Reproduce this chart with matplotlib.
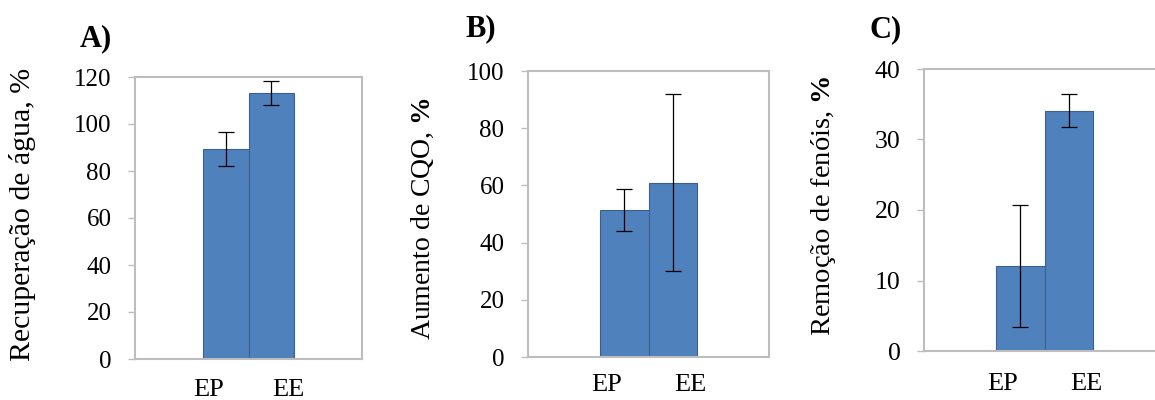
import matplotlib
matplotlib.use("Agg")
import matplotlib.pyplot as plt
import numpy as np

plt.rcParams["font.family"] = ["Liberation Serif", "DejaVu Serif"]
plt.rcParams["mathtext.fontset"] = "custom"
plt.rcParams["mathtext.rm"] = "Liberation Serif"
plt.rcParams["mathtext.bf"] = "Liberation Serif:bold"

# Extraction methods (x categories)
METHODS = ["EP", "EE"]

# (A) water recovery, %
agua_mean = [89.4, 113.1]
agua_err = [7.2, 5.1]
# (B) COD increase, %
cqo_mean = [51.4, 60.9]
cqo_err = [7.3, 31.0]
# (C) phenol removal, %
fenois_mean = [12.1, 34.1]
fenois_err = [8.65, 2.3]

AGUA_TICKS = [0, 20, 40, 60, 80, 100, 120]
CQO_TICKS = [0, 20, 40, 60, 80, 100]
FENOIS_TICKS = [0, 10, 20, 30, 40]

BAR_COLOUR = "#4F81BD"
EDGE_COLOUR = "#3B5F8E"
SPINE_COLOUR = "#BDBDBD"

W, H = 1155, 400
fig = plt.figure(figsize=(W / 100, H / 100), dpi=100)


def px_axes(left, top, right, bottom):
    return fig.add_axes([left / W, 1 - bottom / H, (right - left) / W, (bottom - top) / H])


def panel(ax, means, errs, ticks, xpad, tsize):
    x = np.arange(len(means))
    ax.bar(x, means, width=1.0, color=BAR_COLOUR, edgecolor=EDGE_COLOUR,
           linewidth=0.8, zorder=2)
    ax.errorbar(x, means, yerr=errs, fmt="none", ecolor="black",
                elinewidth=0.9, capsize=5.5, capthick=0.9, zorder=3)
    # bars fill the middle 40 % of the frame
    ax.set_xlim(-2.0, 3.0)
    ax.set_ylim(ticks[0], ticks[-1])
    ax.set_yticks(ticks)
    ax.set_xticks(x + np.array([-0.375, 0.375]))
    ax.set_xticklabels(METHODS)
    ax.tick_params(axis="x", length=0, pad=xpad, labelsize=19)
    ax.tick_params(axis="y", length=5, width=1.0, color=SPINE_COLOUR,
                   pad=12, labelsize=tsize, direction="out")
    for s in ax.spines.values():
        s.set_color(SPINE_COLOUR)
        s.set_linewidth(1.5)


axA = px_axes(135, 77, 362, 359)
panel(axA, agua_mean, agua_err, AGUA_TICKS, 14.5, 18)
axB = px_axes(528, 71, 769, 357)
panel(axB, cqo_mean, cqo_err, CQO_TICKS, 12, 18)
axC = px_axes(924, 69, 1165, 351)
panel(axC, fenois_mean, fenois_err, FENOIS_TICKS, 16, 18.5)

# rotated axis titles
fig.text(23 / W, 1 - 214 / H, "Recuperação de água, %", rotation=90,
         ha="center", va="center", fontsize=21.5)
fig.text(423 / W, 1 - 219 / H, r"Aumento de CQO, $\mathbf{\%}$", rotation=90,
         ha="center", va="center", fontsize=20)
fig.text(823 / W, 1 - 206 / H, r"Remoção de fenóis, $\mathbf{\%}$", rotation=90,
         ha="center", va="center", fontsize=20.5)

# panel letters
fig.text(96 / W, 1 - 39 / H, "A)", ha="center", va="center",
         fontsize=22, fontweight="bold")
fig.text(481 / W, 1 - 29 / H, "B)", ha="center", va="center",
         fontsize=22, fontweight="bold")
fig.text(886 / W, 1 - 30 / H, "C)", ha="center", va="center",
         fontsize=22, fontweight="bold")

fig.savefig("out.png", dpi=100)
